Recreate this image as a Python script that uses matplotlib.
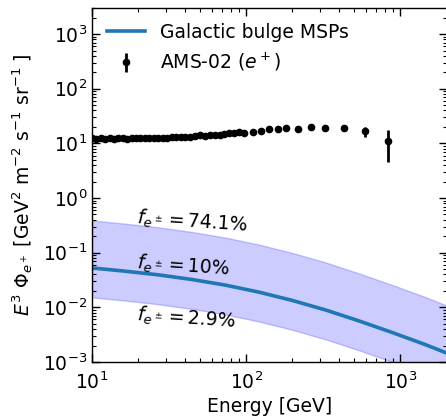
import matplotlib

matplotlib.use("Agg")
import matplotlib.pyplot as plt
import numpy as np

# AMS-02 positron flux times E^3 [GeV^2 m^-2 s^-1 sr^-1]
ams_energy = [9.95, 10.6, 11.4, 12.2, 13.0, 13.9, 14.8, 15.8, 16.9, 18.1,
              19.3, 20.6, 22.0, 23.5, 25.1, 26.9, 28.7, 30.7, 32.9, 35.2,
              37.7, 40.4, 43.5, 46.8, 50.3, 54.1, 58.2, 62.5, 67.2, 72.3,
              77.7, 83.5, 89.7, 96.5, 111.5, 125, 141, 160, 182, 217,
              262, 327, 431, 593, 832]
ams_flux = [12.3, 12.2, 12.3, 12.2, 12.3, 12.2, 12.3, 12.3, 12.2, 12.4,
            12.3, 12.4, 12.5, 12.4, 12.6, 12.5, 12.7, 12.8, 12.9, 13.0,
            13.1, 13.3, 13.2, 13.6, 14.0, 13.7, 14.0, 14.5, 14.3, 14.9,
            15.2, 15.5, 16.0, 15.3, 16.0, 16.5, 18.5, 18.0, 19.0, 18.0,
            20.1, 19.5, 19.3, 16.5, 10.9]
ams_err = [0.2, 0.2, 0.2, 0.2, 0.2, 0.2, 0.2, 0.2, 0.2, 0.2,
           0.2, 0.2, 0.2, 0.2, 0.3, 0.3, 0.3, 0.3, 0.3, 0.3,
           0.3, 0.3, 0.4, 0.4, 0.4, 0.4, 0.4, 0.5, 0.5, 0.5,
           0.6, 0.6, 0.7, 0.7, 0.8, 0.9, 1.0, 1.1, 1.2, 1.3,
           1.5, 1.7, 2.2, 3.3, 6.4]

# Galactic bulge MSP model for f_e = 10%
msp_energy = [10, 16.5, 27, 44.6, 73.5, 121, 199, 328, 540, 889, 1464, 2000]
msp_flux = [0.0526, 0.0458, 0.0393, 0.0323, 0.0255, 0.0190, 0.0134,
            0.00895, 0.00565, 0.00346, 0.00207, 0.00146]
f_model = 0.10
f_low, f_high = 0.029, 0.741

FS = 13.5

fig = plt.figure(figsize=(4.46, 4.16), dpi=100)
ax = fig.add_axes([0.2063, 0.1298, 0.795, 0.851])

msp_energy = np.array(msp_energy)
msp_flux = np.array(msp_flux)
ax.fill_between(msp_energy, msp_flux * f_low / f_model, msp_flux * f_high / f_model,
                color="blue", alpha=0.2, lw=1.0)
ax.plot(msp_energy, msp_flux, color="#1f77b4", lw=2.6, label="Galactic bulge MSPs")
ax.errorbar(ams_energy, ams_flux, yerr=ams_err, fmt="o", color="black",
            ms=4.5, elinewidth=2, capsize=0, label="AMS-02 ($e^+$)")

ax.text(19.5, 0.43, r"$f_{e^\pm} = 74.1\%$", fontsize=FS, rotation=-4,
        ha="left", va="center", rotation_mode="anchor")
ax.text(19.5, 0.065, r"$f_{e^\pm} = 10\%$", fontsize=FS, rotation=-4,
        ha="left", va="center", rotation_mode="anchor")
ax.text(19.5, 0.0073, r"$f_{e^\pm} = 2.9\%$", fontsize=FS, rotation=-4,
        ha="left", va="center", rotation_mode="anchor")

ax.set_xscale("log")
ax.set_yscale("log")
ax.set_xlim(10, 2000)
ax.set_ylim(1e-3, 3e3)
ax.set_xlabel("Energy [GeV]", fontsize=FS, labelpad=3)
ax.set_ylabel(r"$E^3\ \Phi_{e^+}$ [GeV$^2$ m$^{-2}$ s$^{-1}$ sr$^{-1}$ ]",
              fontsize=FS, labelpad=6)
ax.tick_params(which="both", direction="in", top=True, right=True, labelsize=FS)
ax.tick_params(which="major", length=5.5, width=1)
ax.tick_params(which="minor", length=3, width=0.8)
ax.tick_params(axis="x", which="major", pad=6.5)
for sp in ax.spines.values():
    sp.set_linewidth(1.0)

ax.legend(loc="upper left", frameon=False, fontsize=FS, labelspacing=0.5,
          handlelength=2.0, borderaxespad=0.4)

fig.savefig("out.png", dpi=100)
